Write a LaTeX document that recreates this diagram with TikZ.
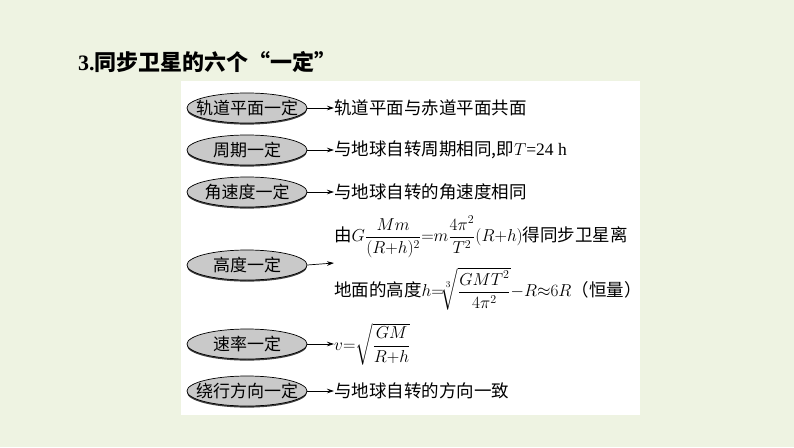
\documentclass[tikz,border=0pt]{standalone}
\usepackage{amsmath}
\usepackage{fontspec}
\setmainfont{Liberation Serif}
\newfontfamily\cjk{Noto Sans CJK SC}
\usetikzlibrary{shapes.geometric,shadows,arrows.meta}
\definecolor{bgc}{HTML}{EEF3E2}
\definecolor{ovalc}{HTML}{C9C9C9}
\tikzset{
  oval/.style={ellipse, draw=black, line width=0.7pt, fill=ovalc,
    minimum width=120pt, minimum height=30pt, inner xsep=-9pt, inner ysep=0pt,
    drop shadow={shadow xshift=0pt, shadow yshift=-1.6pt, fill=black!75, opacity=1},
    font=\fontsize{17}{19}\selectfont\cjk},
  txt/.style={anchor=west, inner sep=0pt, font=\fontsize{17.5}{20}\selectfont\cjk},
  conn/.style={-{Stealth[length=7pt,width=4.5pt]}, line width=0.7pt, shorten <=0pt}
}
\begin{document}
\begin{tikzpicture}[x=1pt,y=-1pt]
\useasboundingbox (0,0) rectangle (794,447);
\fill[bgc] (0,0) rectangle (794,447);
\fill[white] (181,81) rectangle (640,415);
\node[anchor=west, inner sep=0pt, font=\fontsize{22}{24}\selectfont] (title) at (78,62)
  {\textbf{3.}{\cjk\bfseries 同步卫星的六个“一定”}};

\node[oval] (o1) at (247,108) {轨道平面一定};
\node[oval] (o2) at (247,150) {周期一定};
\node[oval] (o3) at (247,192) {角速度一定};
\node[oval] (o4) at (247,265) {高度一定};
\node[oval] (o5) at (247,344) {速率一定};
\node[oval] (o6) at (247,391) {绕行方向一定};

\node[txt] (t1) at (334,108) {轨道平面与赤道平面共面};
\node[txt] (t2) at (334,150) {与地球自转周期相同,即{\rmfamily$T$=24 h}};
\node[txt] (t3) at (334,192) {与地球自转的角速度相同};
\node[txt] (t4) at (334,263) {\begin{tabular}{@{}l@{}}
由$G\dfrac{Mm}{(R{+}h)^{2}}{=}m\dfrac{4\pi^{2}}{T^{2}}(R{+}h)$得同步卫星离\\[20pt]
地面的高度$h{=}\!\sqrt[3]{\dfrac{GMT^{2}}{4\pi^{2}}}{-}R{\approx}6R$（恒量）
\end{tabular}};
\node[txt] (t5) at (334,344) {$v{=}\sqrt{\dfrac{GM}{R{+}h}}$};
\node[txt] (t6) at (334,391) {与地球自转的方向一致};

\draw[conn] (o1.east) -- (t1.west);
\draw[conn] (o2.east) -- (t2.west);
\draw[conn] (o3.east) -- (t3.west);
\draw[conn] (o4.east) -- (t4.west);
\draw[conn] (o5.east) -- (t5.west);
\draw[conn] (o6.east) -- (t6.west);
\end{tikzpicture}
\end{document}
